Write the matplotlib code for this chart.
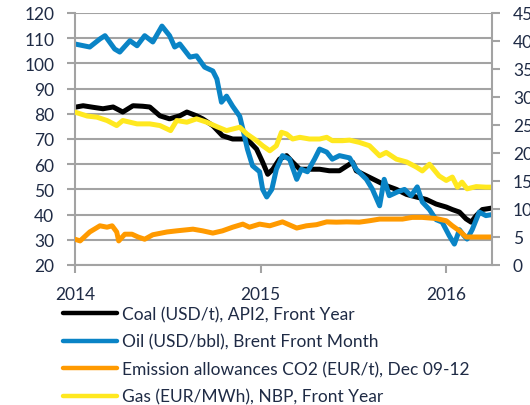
"""Energy prices 2014-2016: coal, oil (left axis), CO2 and gas (right axis)."""

import pandas as pd
import matplotlib
matplotlib.use("Agg")
import matplotlib.pyplot as plt
import matplotlib.dates as mdates

plt.rcParams["font.family"] = ["Lato", "DejaVu Sans"]

TEXT = "#1F2B45"
GRID = "#A3A3A3"

# --- data ------------------------------------------------------------------
coal_dates = ["2014-01-01", "2014-01-17", "2014-02-05", "2014-02-25", "2014-03-17",
              "2014-04-05", "2014-04-25", "2014-05-14", "2014-05-28", "2014-06-17",
              "2014-07-06", "2014-07-26", "2014-08-09", "2014-08-28", "2014-09-09",
              "2014-09-29", "2014-10-18", "2014-11-07", "2014-12-05", "2014-12-24",
              "2015-01-05", "2015-01-15", "2015-01-25", "2015-02-07", "2015-02-21",
              "2015-03-05", "2015-03-19", "2015-04-07", "2015-04-27", "2015-05-16",
              "2015-06-05", "2015-06-25", "2015-07-01", "2015-07-08", "2015-07-28",
              "2015-08-17", "2015-09-05", "2015-09-25", "2015-10-15", "2015-11-03",
              "2015-11-23", "2015-12-12", "2016-01-01", "2016-01-13", "2016-01-27",
              "2016-02-09", "2016-02-19", "2016-02-29", "2016-03-12", "2016-03-31"]
coal_usd_t = [82.6, 83.2, 82.6, 82.0, 82.7, 80.7, 83.2, 83.0, 82.7, 79.2,
              78.0, 79.2, 80.7, 79.2, 78.0, 75.3, 71.3, 70.0, 70.0, 66.0,
              60.8, 56.0, 58.0, 62.0, 63.4, 60.8, 58.0, 58.0, 58.0, 57.4,
              57.4, 60.0, 60.8, 57.4, 55.4, 53.4, 51.5, 50.0, 48.0, 47.0,
              46.0, 44.2, 43.0, 42.0, 41.0, 38.3, 37.0, 39.6, 42.0, 42.6]

oil_dates = ["2014-01-01", "2014-01-30", "2014-02-19", "2014-03-01", "2014-03-20",
             "2014-03-30", "2014-04-19", "2014-05-03", "2014-05-18", "2014-06-03",
             "2014-06-21", "2014-07-06", "2014-07-16", "2014-07-26", "2014-08-15",
             "2014-08-28", "2014-09-13", "2014-09-29", "2014-10-07", "2014-10-16",
             "2014-10-26", "2014-11-07", "2014-11-21", "2014-11-27", "2014-12-06",
             "2014-12-16", "2014-12-30", "2015-01-05", "2015-01-13", "2015-01-23",
             "2015-02-01", "2015-02-13", "2015-02-27", "2015-03-13", "2015-03-22",
             "2015-04-03", "2015-04-17", "2015-04-27", "2015-05-11", "2015-05-22",
             "2015-06-05", "2015-06-25", "2015-07-08", "2015-07-28", "2015-08-09",
             "2015-08-23", "2015-09-01", "2015-09-11", "2015-09-27", "2015-10-11",
             "2015-10-24", "2015-11-05", "2015-11-15", "2015-11-29", "2015-12-12",
             "2015-12-24", "2016-01-07", "2016-01-17", "2016-01-27", "2016-02-05",
             "2016-02-11", "2016-02-21", "2016-03-06", "2016-03-19", "2016-03-31"]
oil_usd_bbl = [107.7, 106.5, 109.7, 111.0, 105.7, 104.5, 109.0, 107.0, 111.0, 108.5,
               114.8, 111.0, 106.5, 107.7, 102.5, 103.0, 98.5, 97.0, 93.8, 84.6,
               87.0, 83.0, 79.0, 74.0, 66.0, 59.4, 57.0, 50.0, 47.0, 50.0,
               58.0, 63.4, 62.0, 54.0, 58.0, 57.0, 62.0, 66.0, 64.8, 62.0,
               63.4, 62.5, 58.0, 54.0, 50.0, 43.5, 54.0, 47.5, 49.0, 50.0,
               47.5, 51.0, 45.0, 42.0, 38.0, 37.0, 31.6, 28.3, 34.0, 31.6,
               30.3, 34.0, 41.0, 39.6, 40.0]

co2_dates = ["2014-01-01", "2014-01-11", "2014-01-30", "2014-02-19", "2014-03-05",
             "2014-03-15", "2014-03-24", "2014-03-28", "2014-04-09", "2014-04-23",
             "2014-05-05", "2014-05-18", "2014-06-03", "2014-07-01", "2014-07-20",
             "2014-08-21", "2014-09-09", "2014-09-29", "2014-10-18", "2014-11-07",
             "2014-11-27", "2014-12-10", "2014-12-30", "2015-01-19", "2015-02-13",
             "2015-03-13", "2015-04-01", "2015-04-21", "2015-05-11", "2015-05-30",
             "2015-06-19", "2015-07-14", "2015-08-03", "2015-08-23", "2015-09-17",
             "2015-10-07", "2015-10-26", "2015-11-15", "2015-12-12", "2016-01-01",
             "2016-01-13", "2016-01-27", "2016-02-09", "2016-02-21", "2016-03-12",
             "2016-03-31"]
co2_eur_t = [4.6, 4.3, 5.9, 7.0, 6.75, 7.0, 5.9, 4.3, 5.5, 5.5,
             5.0, 4.6, 5.4, 5.9, 6.1, 6.4, 6.1, 5.7, 6.1, 6.75,
             7.3, 6.75, 7.3, 7.0, 7.7, 6.6, 7.0, 7.2, 7.7, 7.65,
             7.7, 7.65, 7.9, 8.2, 8.2, 8.2, 8.5, 8.5, 8.3, 7.9,
             7.0, 6.1, 5.0, 5.0, 5.0, 5.0]

gas_dates = ["2014-01-01", "2014-01-25", "2014-02-13", "2014-03-05", "2014-03-24",
             "2014-04-05", "2014-05-03", "2014-05-28", "2014-06-17", "2014-07-08",
             "2014-07-20", "2014-08-09", "2014-08-28", "2014-09-17", "2014-10-07",
             "2014-10-26", "2014-11-21", "2014-12-05", "2014-12-24", "2015-01-05",
             "2015-01-19", "2015-02-01", "2015-02-11", "2015-02-21", "2015-03-05",
             "2015-03-19", "2015-04-07", "2015-04-27", "2015-05-11", "2015-05-22",
             "2015-06-11", "2015-06-25", "2015-07-14", "2015-08-03", "2015-08-23",
             "2015-09-05", "2015-09-25", "2015-10-15", "2015-11-03", "2015-11-15",
             "2015-11-29", "2015-12-18", "2016-01-01", "2016-01-13", "2016-01-23",
             "2016-02-01", "2016-02-11", "2016-02-29", "2016-03-19", "2016-03-31"]
gas_eur_mwh = [27.3, 26.6, 26.4, 25.8, 24.9, 25.8, 25.2, 25.2, 24.9, 24.0,
               25.8, 25.5, 26.1, 25.5, 24.7, 24.0, 24.6, 23.4, 22.2, 21.3,
               20.4, 21.3, 23.7, 23.4, 22.5, 22.8, 22.5, 22.5, 22.8, 22.2,
               22.2, 22.3, 21.9, 21.3, 19.5, 20.1, 18.9, 18.4, 17.5, 16.8,
               18.0, 15.9, 15.1, 15.7, 13.9, 14.8, 13.6, 14.0, 13.9, 13.9]

labels = ["Coal (USD/t), API2, Front Year",
          "Oil (USD/bbl), Brent Front Month",
          "Emission allowances CO2 (EUR/t), Dec 09-12",
          "Gas (EUR/MWh), NBP, Front Year"]
colors = ["#000000", "#0A84C6", "#FF9A00", "#FFE81F"]
left_ticks = [20, 30, 40, 50, 60, 70, 80, 90, 100, 110, 120]
right_ticks = [0, 5, 10, 15, 20, 25, 30, 35, 40, 45]
year_ticks = ["2014-01-01", "2015-01-01", "2016-01-01"]


def main():
	fig = plt.figure(figsize=(5.3, 4.06), dpi=100)
	ax = fig.add_axes([75 / 530, 140 / 406, 417 / 530, 252 / 406])
	ax2 = ax.twinx()

	lw = 3.6
	l1, = ax.plot(pd.to_datetime(coal_dates), coal_usd_t, color=colors[0], lw=lw,
				  solid_capstyle="round", solid_joinstyle="round")
	l2, = ax.plot(pd.to_datetime(oil_dates), oil_usd_bbl, color=colors[1], lw=lw,
				  solid_capstyle="round", solid_joinstyle="round")
	l3, = ax2.plot(pd.to_datetime(co2_dates), co2_eur_t, color=colors[2], lw=lw,
				   solid_capstyle="round", solid_joinstyle="round")
	l4, = ax2.plot(pd.to_datetime(gas_dates), gas_eur_mwh, color=colors[3], lw=lw,
				   solid_capstyle="round", solid_joinstyle="round")

	ax.set_xlim(pd.Timestamp("2014-01-01"), pd.Timestamp("2016-03-31"))
	ax.set_ylim(20, 120)
	ax2.set_ylim(0, 45)
	ax.set_yticks(left_ticks)
	ax2.set_yticks(right_ticks)
	ax.set_xticks(pd.to_datetime(year_ticks))
	ax.xaxis.set_major_formatter(mdates.DateFormatter("%Y"))

	ax.yaxis.grid(True, color=GRID, lw=1.5)
	ax.set_axisbelow(True)

	for a in (ax, ax2):
		for side in ("top", "left", "right", "bottom"):
			a.spines[side].set_visible(False)
		a.tick_params(colors=GRID, labelcolor=TEXT, labelsize=12.5,
					  length=6, width=1.5, pad=9)
	ax.spines["left"].set_visible(True)
	ax.spines["bottom"].set_visible(True)
	ax2.spines["right"].set_visible(True)
	for s in (ax.spines["left"], ax.spines["bottom"], ax2.spines["right"]):
		s.set_color(GRID)
		s.set_linewidth(1.5)

	leg = fig.legend([l1, l2, l3, l4], labels, loc="upper left",
					 bbox_to_anchor=(63 / 530, 1 - 307 / 406), frameon=False,
					 fontsize=12.5, labelcolor=TEXT, handlelength=3.1,
					 handletextpad=0.3, labelspacing=0.66, borderpad=0,
					 borderaxespad=0)
	for h in leg.legend_handles:
		h.set_linewidth(3.2)

	fig.savefig("out.png", dpi=100)


if __name__ == "__main__":
	main()
